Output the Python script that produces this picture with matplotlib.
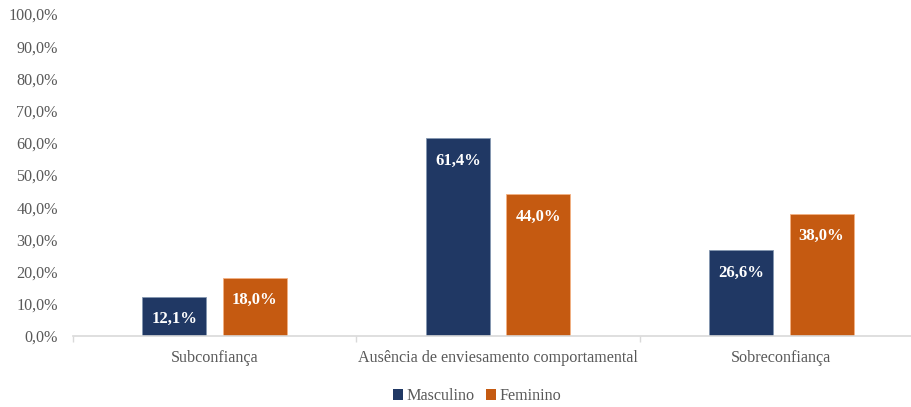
import numpy as np
import matplotlib.pyplot as plt
from matplotlib.patches import Patch

# data
categories = ["Subconfiança", "Ausência de enviesamento comportamental", "Sobreconfiança"]
masculino = [12.1, 61.4, 26.6]
feminino = [18.0, 44.0, 38.0]
series_names = ["Masculino", "Feminino"]

C_MASC = "#203864"
C_FEM = "#C55A11"
GRID_GREY = "#D9D9D9"
TXT_GREY = "#595959"
FS = 11.6

plt.rcParams["font.family"] = ["Liberation Serif", "DejaVu Serif"]

fig = plt.figure(figsize=(9.11, 4.07), dpi=100)
# axes runs a bit past the right edge of the figure
ax = fig.add_axes([73 / 911, 1 - 336 / 407, 850 / 911, 322 / 407])

x = np.arange(len(categories))
w = 0.226
off = 0.142

bars_m = ax.bar(x - off, masculino, w, color=C_MASC, edgecolor="#8497B0", linewidth=0.6)
bars_f = ax.bar(x + off, feminino, w, color=C_FEM, edgecolor="#F4B183", linewidth=0.6)

def fmt(v):
    return f"{v:.1f}%".replace(".", ",")

for bars, vals in [(bars_m, masculino), (bars_f, feminino)]:
    for b, v in zip(bars, vals):
        ax.annotate(fmt(v), (b.get_x() + b.get_width() / 2, v),
                    xytext=(0, -16), textcoords="offset points",
                    ha="center", va="center", color="white",
                    fontsize=12, fontweight="bold")

ax.set_xlim(-0.5, len(categories) - 0.5)
ax.set_ylim(0, 100)
ax.set_yticks(np.arange(0, 101, 10))
ax.set_yticklabels([fmt(v) for v in np.arange(0, 101, 10)], color=TXT_GREY, fontsize=FS)
ax.tick_params(axis="y", length=0, pad=11)

ax.set_xticks(x)
ax.set_xticklabels(categories, color=TXT_GREY, fontsize=FS)
ax.set_xticks(np.arange(-0.5, len(categories), 1), minor=True)
ax.tick_params(axis="x", which="major", length=0, pad=10)
ax.tick_params(axis="x", which="minor", length=4, color=GRID_GREY, width=1)

for s in ["top", "right", "left"]:
    ax.spines[s].set_visible(False)
ax.spines["bottom"].set_color(GRID_GREY)
ax.spines["bottom"].set_linewidth(1.2)

handles = [Patch(facecolor=C_MASC), Patch(facecolor=C_FEM)]
leg = fig.legend(handles, series_names, loc="center", bbox_to_anchor=(477 / 911, 1 - 396 / 407),
                 ncol=2, frameon=False, fontsize=FS, handlelength=0.65, handleheight=0.65,
                 handletextpad=0.2, columnspacing=0.7)
for t in leg.get_texts():
    t.set_color(TXT_GREY)

fig.savefig("out.png", dpi=100)
